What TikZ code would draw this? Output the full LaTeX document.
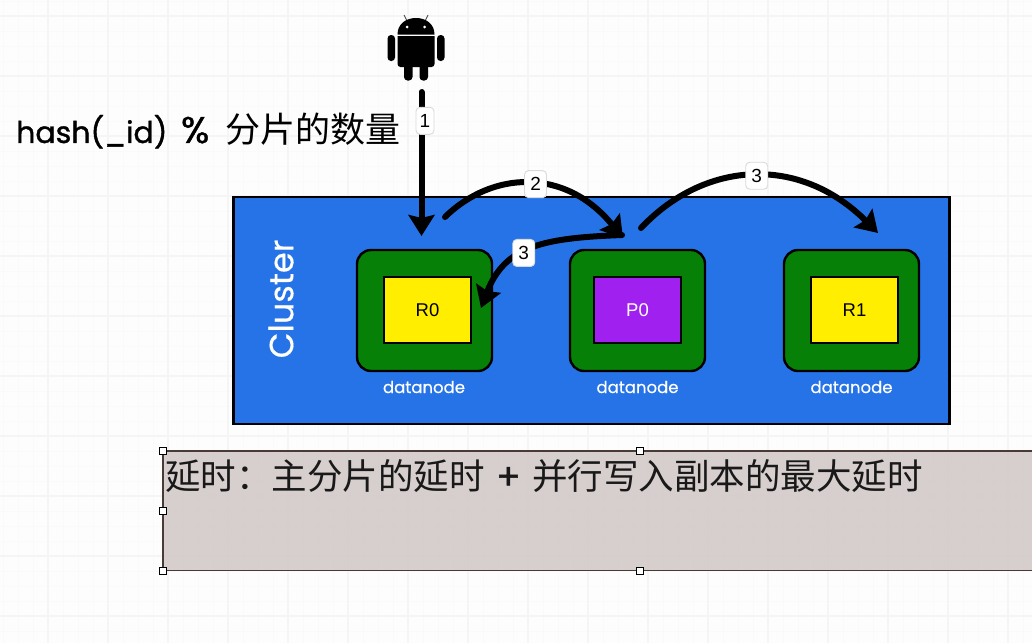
\documentclass[tikz,border=0pt]{standalone}
\usepackage{fontspec}
\setmainfont{Poppins}[FakeBold=0.35]
\newfontfamily\heavylatin{Poppins}[FakeBold=1.2]
\newfontfamily\plainsans{Liberation Sans}
\newfontfamily\cjk{Noto Sans CJK SC}
\usetikzlibrary{arrows.meta}
\definecolor{clusterblue}{HTML}{2673E8}
\definecolor{nodegreen}{HTML}{068006}
\definecolor{shardyellow}{HTML}{FFEE00}
\definecolor{shardpurple}{HTML}{A020F0}
\definecolor{notefill}{HTML}{D3C9C9}
\definecolor{noteedge}{HTML}{4A3A36}
\tikzset{
  x=1pt,y=-1pt,
  minorgrid/.style={draw=black!1.8,line width=0.8pt},
  majorgrid/.style={draw=black!4,line width=1.2pt},
  clusterbox/.style={draw=black,line width=2.8pt,fill=clusterblue,minimum width=716pt,minimum height=227pt,inner sep=0pt},
  datanodebox/.style={draw=black,line width=2.4pt,fill=nodegreen,rounded corners=14pt,minimum width=135pt,minimum height=121pt,inner sep=0pt},
  shardbox/.style={draw=black,line width=2.4pt,minimum width=87pt,minimum height=66pt,inner sep=0pt,font=\plainsans\fontsize{18.5}{18.5}\selectfont},
  nodecaption/.style={text=white,inner sep=0pt,font=\fontsize{16.5}{16.5}\selectfont},
  flow/.style={draw=black,line width=6pt,line cap=round,-{Stealth[length=21pt,width=26pt,inset=3pt]}},
  steplabel/.style={draw=black!15,fill=white,rounded corners=4pt,line width=0.9pt,minimum width=18pt,minimum height=27pt,inner sep=1pt,font=\plainsans\fontsize{19}{19}\selectfont},
  handle/.style={draw=black,fill=white,line width=1pt,minimum size=6.5pt,inner sep=0pt},
}
\begin{document}
\begin{tikzpicture}
\useasboundingbox (0,0) rectangle (1032,643);
\fill[black!0.8] (0,0) rectangle (1032,643);
% squared paper
\foreach \gx in {3,18,...,1032} \draw[minorgrid] (\gx,0) -- (\gx,643);
\foreach \gy in {1,16,...,643} \draw[minorgrid] (0,\gy) -- (1032,\gy);
\foreach \gx in {48,108,...,1032} \draw[majorgrid] (\gx,0) -- (\gx,643);
\foreach \gy in {16,76,...,643} \draw[majorgrid] (0,\gy) -- (1032,\gy);

% phone client glyph
\draw[black!70,line width=0.9pt] (408,23) -- (404,15) (424,23) -- (428,15);
\fill[black] (397.5,34.5) .. controls (397.5,24) and (406,18) .. (416,18) .. controls (426,18) and (434.5,24) .. (434.5,34.5) -- cycle;
\fill[black] (397.5,36) -- (434.5,36) -- (434.5,63) [rounded corners=3pt] -- (434.5,67) -- (397.5,67) [sharp corners] -- (397.5,63) -- cycle;
\fill[black,rounded corners=3.5pt] (387.5,35) rectangle (395,61);
\fill[black,rounded corners=3.5pt] (437,35) rectangle (444.5,61);
\fill[black,rounded corners=3.5pt] (404,62) rectangle (412.5,80.5);
\fill[black,rounded corners=3.5pt] (419.5,62) rectangle (428,80.5);
\fill[white] (407,27) circle (1.5pt) (424.5,27) circle (1.5pt);
\coordinate (client) at (421.5,92);

% formula caption
\node[anchor=west,inner sep=0pt] (formula) at (16,131) {\heavylatin\fontsize{30}{30}\selectfont\makebox[149pt][l]{hash(\_id)}\makebox[60pt][c]{\fontsize{37}{37}\selectfont\%}{\cjk\fontsize{35}{35}\selectfont 分片的数量}};

% cluster with its three data nodes
\node[clusterbox] (cluster) at (591.5,310.5) {};
\node[rotate=90,text=white,inner sep=0pt,font=\fontsize{33.5}{33.5}\selectfont] (clustername) at (281,299) {Cluster};

\node[datanodebox] (dn0) at (424.5,310.5) {};
\node[datanodebox] (dn1) at (637.5,310.5) {};
\node[datanodebox] (dn2) at (851.5,310.5) {};
\node[shardbox,fill=shardyellow] (r0) at (427.5,310) {R0};
\node[shardbox,fill=shardpurple,text=white] (p0) at (637.5,310) {P0};
\node[shardbox,fill=shardyellow] (r1) at (854.5,310) {R1};
\node[nodecaption] (cap0) at (424,387) {datanode};
\node[nodecaption] (cap1) at (637.5,387) {datanode};
\node[nodecaption] (cap2) at (851.5,387) {datanode};

% anchor points for the write flow
\coordinate (entry) at (421.5,236);
\coordinate (fwdstart) at (445,217);
\coordinate (primaryin) at (623,238);
\coordinate (primaryout) at (641,228);
\coordinate (replicain) at (878,233);
\coordinate (syncstart) at (622,235);
\coordinate (replicaleft) at (481,308);

\draw[flow] (client) -- (entry) node[steplabel,pos=0.2,xshift=3.5pt] {1};
\draw[flow] (fwdstart) .. controls (492,171) and (565,167) .. (primaryin) node[steplabel,minimum width=22pt,pos=0.53,yshift=0pt] {2};
\draw[flow] (primaryout) .. controls (705,160) and (800,155) .. (replicain) node[steplabel,minimum width=22pt,pos=0.51] {3};
\draw[flow] (syncstart) .. controls (545,238) and (505,245) .. (replicaleft) node[steplabel,minimum width=22pt,pos=0.56] {3};

% note with selection handles
\fill[notefill,opacity=0.9] (163,451) rectangle (1040,570.5);
\draw[noteedge,line width=1.3pt] (1040,451) -- (163,451) -- (163,570.5) -- (1040,570.5);
\node[anchor=west,inner sep=0pt,text=black!90] (note) at (165,476) {\fontsize{35.5}{35.5}\selectfont\cjk 延时：主分片的延时\makebox[47.5pt][c]{\heavylatin\fontsize{36}{36}\selectfont +}并行写入副本的最大延时};
\node[handle] (h1) at (163,451) {};
\node[handle] (h2) at (640,451) {};
\node[handle] (h3) at (163,511) {};
\node[handle] (h4) at (163,571) {};
\node[handle] (h5) at (640,571) {};
\end{tikzpicture}
\end{document}
